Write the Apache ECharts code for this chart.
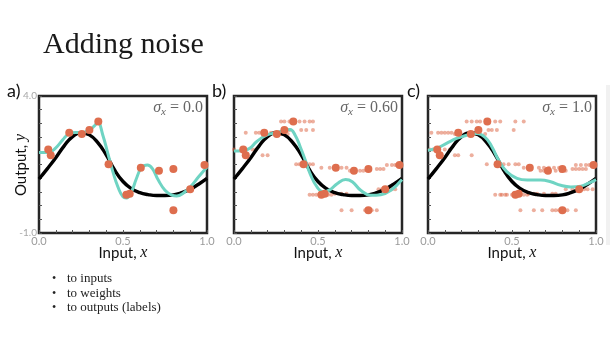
<!DOCTYPE html>
<html>
<head>
<meta charset="utf-8">
<script src="https://cdn.jsdelivr.net/npm/echarts@6/dist/echarts.min.js"></script>
<style>
  html, body { margin: 0; padding: 0; background: #fff; }
  #chart { width: 610px; height: 339px; }
</style>
</head>
<body>
<div id="chart"></div>
<script>
// Underlying (true) function, sampled
const trueX = [0, 0.05, 0.1, 0.15, 0.2, 0.25, 0.3, 0.35, 0.4, 0.45, 0.5, 0.55, 0.6, 0.65, 0.7, 0.75, 0.8, 0.85, 0.9, 0.95, 1.0];
const trueY = [0.97, 1.35, 1.75, 2.18, 2.52, 2.66, 2.58, 2.3, 1.85, 1.3, 0.88, 0.62, 0.47, 0.4, 0.37, 0.37, 0.39, 0.47, 0.6, 0.78, 0.99];

// Fitted model, no input noise
const fitAX = [0, 0.06, 0.1, 0.14, 0.18, 0.22, 0.26, 0.3, 0.33, 0.35, 0.38, 0.41, 0.44, 0.47, 0.5, 0.52, 0.55, 0.58, 0.61, 0.645, 0.675, 0.71, 0.75, 0.79, 0.82, 0.86, 0.9, 0.95, 1.0];
const fitAY = [1.94, 1.95, 2.11, 2.39, 2.63, 2.67, 2.67, 2.76, 2.91, 3.04, 2.57, 1.9, 1.23, 0.68, 0.32, 0.28, 0.5, 0.99, 1.38, 1.48, 1.35, 0.93, 0.56, 0.38, 0.35, 0.46, 0.68, 1.05, 1.41];

// Fitted model, sigma_x = 0.60
const fitBX = [0, 0.054, 0.094, 0.134, 0.194, 0.254, 0.304, 0.334, 0.364, 0.394, 0.424, 0.454, 0.494, 0.534, 0.574, 0.614, 0.664, 0.704, 0.754, 0.814, 0.874, 0.934, 1.0];
const fitBY = [1.99, 2.0, 2.09, 2.33, 2.57, 2.66, 2.76, 2.78, 2.57, 2.15, 1.66, 1.15, 0.68, 0.5, 0.59, 0.8, 0.95, 0.87, 0.56, 0.38, 0.4, 0.56, 0.95];

// Fitted model, sigma_x = 1.0
const fitCX = [0, 0.05, 0.11, 0.17, 0.23, 0.29, 0.34, 0.38, 0.42, 0.47, 0.53, 0.59, 0.67, 0.73, 0.79, 0.85, 0.91, 0.96, 1.0];
const fitCY = [2.02, 2.09, 2.27, 2.45, 2.57, 2.63, 2.49, 2.15, 1.66, 1.23, 0.99, 0.93, 0.93, 0.87, 0.74, 0.68, 0.71, 0.83, 0.95];

// Training observations
const obsX = [0.055, 0.07, 0.18, 0.255, 0.30, 0.353, 0.414, 0.52, 0.54, 0.606, 0.714, 0.80, 0.80, 0.90, 0.985];
const obsY = [2.05, 1.84, 2.66, 2.61, 2.76, 3.07, 1.51, 0.40, 0.43, 1.38, 1.27, 1.34, -0.17, 0.60, 1.48];

// Jittered input copies of each observation (same output value)
const noisyXB = [
  [0.0, 0.11, 0.13], [0.17, 0.2], [0.07, 0.13, 0.15, 0.22, 0.24], [0.28, 0.32],
  [0.33, 0.4, 0.43, 0.47], [0.28, 0.3, 0.33, 0.39, 0.42, 0.45, 0.47], [0.37, 0.39, 0.45, 0.47],
  [0.45, 0.47, 0.49, 0.51, 0.56, 0.58], [0.6, 0.64, 0.67], [0.52, 0.57, 0.64, 0.67],
  [0.69, 0.75, 0.77], [0.85, 0.87, 0.89], [0.64, 0.7, 0.78, 0.82, 0.85],
  [0.86, 0.88, 0.94, 0.96], [0.91, 0.94, 0.96, 0.97]
];
const noisyXC = [
  [0.01, 0.03, 0.1, 0.13], [0.16, 0.18, 0.26], [0.02, 0.06, 0.08, 0.1, 0.12, 0.14],
  [0.16, 0.22, 0.28, 0.34], [0.36, 0.38, 0.41, 0.51], [0.23, 0.26, 0.29, 0.31, 0.4, 0.43, 0.52, 0.57],
  [0.35, 0.45, 0.48, 0.52, 0.54], [0.4, 0.43, 0.44, 0.46, 0.47, 0.5, 0.57, 0.59],
  [0.6, 0.63, 0.65, 0.69, 0.74, 0.76], [0.57, 0.66, 0.69, 0.72, 0.75, 0.78],
  [0.67, 0.69, 0.76, 0.79, 0.82], [0.86, 0.88, 0.9, 0.92, 0.94],
  [0.55, 0.63, 0.68, 0.74, 0.76, 0.78, 0.83, 0.88], [0.82, 0.86, 0.93, 0.95, 0.98],
  [0.88, 0.91, 0.94, 0.96]
];

const panelLabels = ['a)', 'b)', 'c)'];
const sigmaLabels = ['0.0', '0.60', '1.0'];
const xTickLabels = ['0.0', '0.5', '1.0'];
const yTickLabels = ['-1.0', '4.0'];
const bulletItems = ['to inputs', 'to weights', 'to outputs (labels)'];

const DOT = '#DE6E4E';
const TEAL = '#6FD4C3';
const SERIF = '"Liberation Serif", "DejaVu Serif", serif';
const SANS = 'Lato, "Open Sans", sans-serif';

const gridLeft = [39, 234, 428];
const letterLeft = [7, 212, 407];
const gridTop = 96, gridW = 168, gridH = 137;

const zip = (xs, ys) => xs.map((x, i) => [x, ys[i]]);
const near = (v, t) => Math.abs(v - t) < 1e-6;

const fits = [zip(fitAX, fitAY), zip(fitBX, fitBY), zip(fitCX, fitCY)];
const jitter = [null, noisyXB, noisyXC];

const grids = [], xAxes = [], yAxes = [], series = [], graphics = [];

for (let p = 0; p < 3; p++) {
  grids.push({
    left: gridLeft[p], top: gridTop, width: gridW, height: gridH,
    show: true, borderColor: '#262626', borderWidth: 2.5, backgroundColor: '#fff'
  });
  xAxes.push({
    type: 'value', gridIndex: p, min: 0, max: 1, interval: 0.1, position: 'bottom',
    axisLine: { show: false, onZero: false },
    axisTick: { show: true, inside: true, length: 3, lineStyle: { color: '#555', width: 1 } },
    splitLine: { show: false },
    axisLabel: {
      margin: 3, color: '#9a9a9a', fontSize: 11, fontFamily: SANS,
      formatter: v => {
        const k = [0, 0.5, 1].findIndex(t => near(v, t));
        return k >= 0 ? xTickLabels[k] : '';
      }
    }
  });
  yAxes.push({
    type: 'value', gridIndex: p, min: -1, max: 4, interval: 0.5, position: 'left',
    axisLine: { show: false, onZero: false },
    axisTick: { show: true, inside: true, length: 3, lineStyle: { color: '#555', width: 1 } },
    splitLine: { show: false },
    axisLabel: {
      show: p === 0, margin: 2, color: '#a8a8a8', fontSize: 10, fontFamily: SANS,
      formatter: v => near(v, -1) ? yTickLabels[0] : (near(v, 4) ? yTickLabels[1] : '')
    }
  });

  if (jitter[p]) {
    const pts = [];
    jitter[p].forEach((xs, i) => xs.forEach(x => pts.push([x, obsY[i]])));
    series.push({
      type: 'scatter', xAxisIndex: p, yAxisIndex: p, data: pts, symbolSize: 4,
      itemStyle: { color: DOT, opacity: 0.55 }, silent: true, z: 2
    });
  }
  series.push({
    type: 'line', xAxisIndex: p, yAxisIndex: p, data: zip(trueX, trueY),
    smooth: 0.5, showSymbol: false, lineStyle: { color: '#000', width: 3.4 }, z: 3, silent: true
  });
  series.push({
    type: 'line', xAxisIndex: p, yAxisIndex: p, data: fits[p],
    smooth: 0.45, showSymbol: false, lineStyle: { color: TEAL, width: 3 }, z: 4, silent: true
  });
  series.push({
    type: 'scatter', xAxisIndex: p, yAxisIndex: p, data: zip(obsX, obsY), symbolSize: 8,
    itemStyle: { color: DOT, opacity: 1 }, z: 5, silent: true
  });

  // panel letter
  graphics.push({
    type: 'text', x: letterLeft[p], y: 91,
    style: { text: panelLabels[p], fontSize: 18, fontFamily: SANS, fill: '#111', verticalAlign: 'middle' }
  });
  // sigma_x annotation
  graphics.push({
    type: 'text', x: gridLeft[p] + gridW - 4, y: 108, z: 10,
    style: {
      text: '{s|σ}{sub|x}{n| = ' + sigmaLabels[p] + '}',
      align: 'right', verticalAlign: 'middle',
      rich: {
        s: { fontFamily: SERIF, fontStyle: 'italic', fontSize: 16, fill: '#666', lineHeight: 19, verticalAlign: 'middle' },
        sub: { fontFamily: SERIF, fontStyle: 'italic', fontSize: 11, fill: '#666', lineHeight: 19, verticalAlign: 'bottom' },
        n: { fontFamily: SERIF, fontSize: 16, fill: '#666', lineHeight: 19, verticalAlign: 'middle' }
      }
    }
  });
  // x axis title
  graphics.push({
    type: 'text', x: gridLeft[p] + gridW / 2, y: 253,
    style: {
      text: '{a|Input, }{b|x}', align: 'center', verticalAlign: 'middle',
      rich: {
        a: { fontFamily: SANS, fontSize: 15, fill: '#111' },
        b: { fontFamily: SERIF, fontStyle: 'italic', fontSize: 16, fill: '#111' }
      }
    }
  });
}

// y axis title
graphics.push({
  type: 'text', x: 21, y: 165, rotation: Math.PI / 2,
  style: {
    text: '{a|Output, }{b|y}', align: 'center', verticalAlign: 'middle',
    rich: {
      a: { fontFamily: SANS, fontSize: 15, fill: '#111' },
      b: { fontFamily: SERIF, fontStyle: 'italic', fontSize: 16, fill: '#111' }
    }
  }
});

// slide title
graphics.push({
  type: 'text', x: 43, y: 45,
  style: { text: 'Adding noise', fontFamily: SERIF, fontSize: 30, fill: '#1a1a1a', verticalAlign: 'middle' }
});

// bullet list
bulletItems.forEach((t, i) => {
  const y = 279 + i * 14.5;
  graphics.push({ type: 'text', x: 52, y: y, style: { text: '•', fontFamily: SERIF, fontSize: 12, fill: '#222', verticalAlign: 'middle' } });
  graphics.push({ type: 'text', x: 67, y: y, style: { text: t, fontFamily: SERIF, fontSize: 13, fill: '#222', verticalAlign: 'middle' } });
});

// faint page edge on the right
graphics.push({
  type: 'rect', shape: { x: 606, y: 85, width: 4, height: 160 },
  style: { fill: '#f1f1f1' }, z: -1
});

const chart = echarts.init(document.getElementById('chart'), null, { renderer: 'canvas' });
chart.setOption({
  animation: false,
  backgroundColor: '#fff',
  grid: grids,
  xAxis: xAxes,
  yAxis: yAxes,
  series: series,
  graphic: graphics
});
</script>
</body>
</html>
